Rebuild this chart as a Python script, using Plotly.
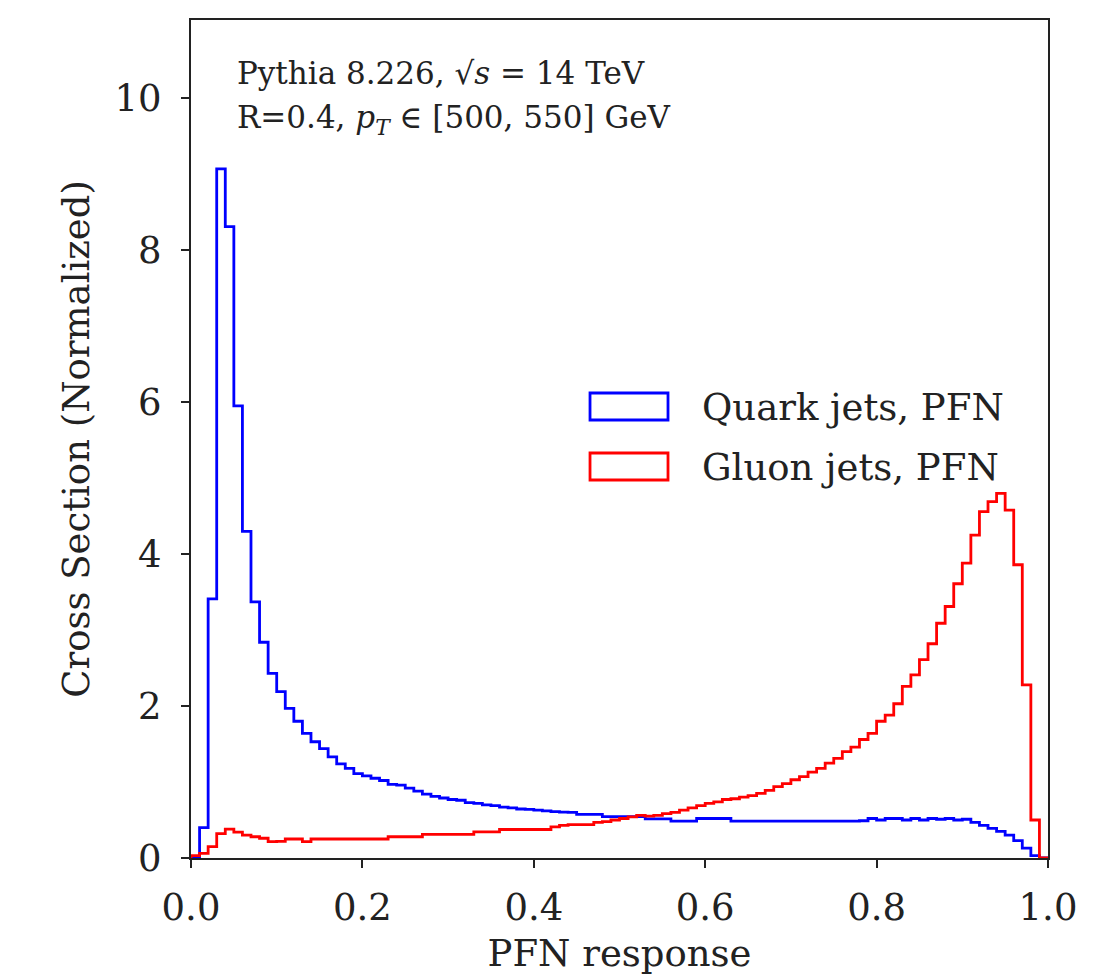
import numpy as np
import plotly.graph_objects as go

# 100 bins of width 0.01 over [0, 1]
bin_edges = np.linspace(0.0, 1.0, 101)

quark_pfn = [
    0.02, 0.40, 3.41, 9.07, 8.31, 5.95, 4.30, 3.37, 2.84, 2.43,
    2.19, 1.97, 1.80, 1.64, 1.53, 1.44, 1.33, 1.24, 1.18, 1.11,
    1.08, 1.05, 1.02, 0.97, 0.96, 0.92, 0.88, 0.84, 0.81, 0.79,
    0.77, 0.76, 0.73, 0.72, 0.70, 0.69, 0.67, 0.66, 0.645, 0.64,
    0.63, 0.62, 0.61, 0.605, 0.60, 0.575, 0.575, 0.575, 0.545, 0.545,
    0.545, 0.545, 0.545, 0.515, 0.515, 0.515, 0.485, 0.485, 0.485, 0.52,
    0.52, 0.52, 0.52, 0.485, 0.485, 0.485, 0.485, 0.485, 0.485, 0.485,
    0.485, 0.485, 0.485, 0.485, 0.485, 0.485, 0.485, 0.485, 0.49, 0.52,
    0.50, 0.52, 0.52, 0.50, 0.52, 0.50, 0.52, 0.51, 0.52, 0.50,
    0.51, 0.47, 0.43, 0.39, 0.35, 0.30, 0.23, 0.13, 0.03, 0.0,
]

gluon_pfn = [
    0.03, 0.06, 0.15, 0.32, 0.38, 0.34, 0.30, 0.28, 0.26, 0.215,
    0.22, 0.25, 0.25, 0.215, 0.25, 0.25, 0.25, 0.25, 0.25, 0.25,
    0.25, 0.25, 0.25, 0.28, 0.28, 0.28, 0.28, 0.31, 0.31, 0.31,
    0.31, 0.31, 0.31, 0.345, 0.345, 0.345, 0.375, 0.375, 0.375, 0.375,
    0.375, 0.375, 0.41, 0.43, 0.44, 0.44, 0.44, 0.47, 0.48, 0.50,
    0.52, 0.54, 0.56, 0.55, 0.56, 0.585, 0.60, 0.63, 0.66, 0.69,
    0.72, 0.74, 0.77, 0.78, 0.80, 0.82, 0.85, 0.89, 0.94, 0.98,
    1.03, 1.07, 1.13, 1.18, 1.25, 1.31, 1.40, 1.46, 1.56, 1.64,
    1.80, 1.88, 2.03, 2.26, 2.41, 2.61, 2.82, 3.09, 3.31, 3.61,
    3.88, 4.25, 4.56, 4.69, 4.80, 4.58, 3.86, 2.28, 0.50, 0.0,
]

series_names = ["Quark jets, PFN", "Gluon jets, PFN"]
series_colors = ["#0000ff", "#ff0000"]

x_ticks = [0.0, 0.2, 0.4, 0.6, 0.8, 1.0]
y_ticks = [0, 2, 4, 6, 8, 10]

FONT = "DejaVu Serif"


def step_xy(values):
    xs = [bin_edges[0]] + list(bin_edges)
    ys = [0.0] + list(values) + [0.0]
    return xs, ys


fig = go.Figure()
for vals, name, col in zip([quark_pfn, gluon_pfn], series_names, series_colors):
    xs, ys = step_xy(vals)
    fig.add_trace(go.Scatter(
        x=xs, y=ys, mode="lines", name=name,
        line=dict(color=col, width=2.8, shape="hv"),
        showlegend=False, hoverinfo="skip",
    ))

axis_common = dict(
    showgrid=False, zeroline=False, showline=True, linecolor="#222",
    linewidth=2, mirror=True, ticks="outside", ticklen=8, tickwidth=1.8,
    tickcolor="#222", tickfont=dict(family=FONT, size=37, color="#222"),
    automargin=False,
)

fig.update_layout(
    width=1112, height=975,
    margin=dict(l=191, r=64, t=20, b=117),
    paper_bgcolor="white", plot_bgcolor="white",
    font=dict(family=FONT, color="#222"),
    xaxis=dict(range=[0, 1], tickvals=x_ticks, ticktext=[f"{t:.1f}" for t in x_ticks],
               ticklabelstandoff=8,
               title=dict(text="PFN response", font=dict(family=FONT, size=37), standoff=20),
               **axis_common),
    yaxis=dict(range=[0, 11.03], tickvals=y_ticks, ticktext=[str(t) for t in y_ticks],
               ticklabelstandoff=12,
               title=dict(text="Cross Section (Normalized)", font=dict(family=FONT, size=37), standoff=14),
               **axis_common),
)

# annotation text block
fig.add_annotation(xref="paper", yref="paper", x=0.051, y=0.937, xanchor="left", yanchor="middle",
                   text="Pythia 8.226, √<i>s</i> = 14 TeV", showarrow=False,
                   font=dict(family=FONT, size=31, color="#222"))
fig.add_annotation(xref="paper", yref="paper", x=0.051, y=0.881, xanchor="left", yanchor="middle",
                   text="R=0.4, <i>p</i><sub><i>T</i></sub> ∈ [500, 550] GeV", showarrow=False,
                   font=dict(family=FONT, size=31, color="#222"))

# custom legend with outlined patches
leg_rows = [(0.5549, 0.5227, 0.537), (0.4833, 0.4511, 0.4654)]
for (y1, y0, ym), name, col in zip(leg_rows, series_names, series_colors):
    fig.add_shape(type="rect", xref="paper", yref="paper", x0=0.4656, x1=0.5566, y0=y0, y1=y1,
                  line=dict(color=col, width=2.8), fillcolor="rgba(0,0,0,0)")
    fig.add_annotation(xref="paper", yref="paper", x=0.5939, y=ym, xanchor="left", yanchor="middle",
                       text=name, showarrow=False, font=dict(family=FONT, size=37, color="#222"))

fig.write_html("out.html")
